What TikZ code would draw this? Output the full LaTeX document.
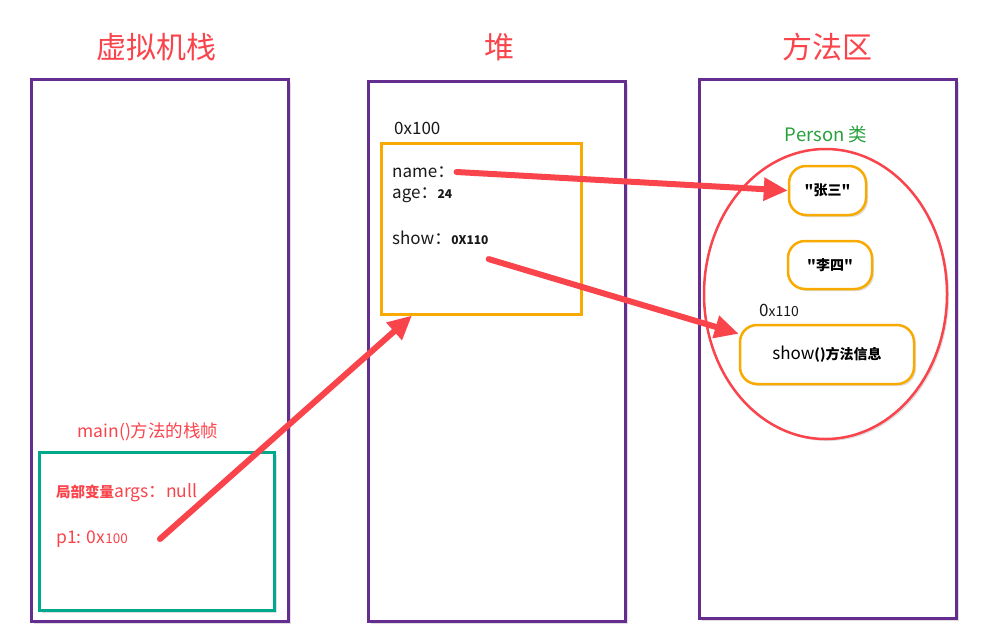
\documentclass[tikz,border=0pt]{standalone}
\usepackage{fontspec}
\setmainfont{Noto Sans CJK SC}[Ligatures=TeXOff]
\usetikzlibrary{positioning}
\usetikzlibrary{arrows.meta}
\usetikzlibrary{shapes.geometric}
\usetikzlibrary{shadows}
\definecolor{areapurple}{RGB}{102, 45, 145}
\definecolor{framegreen}{RGB}{0, 168, 140}
\definecolor{objorange}{RGB}{248, 170, 0}
\definecolor{refred}{RGB}{250, 68, 76}
\definecolor{classgreen}{RGB}{40, 160, 60}

\begin{document}
\begin{tikzpicture}[
  x=1pt, y=-1pt,
  soft/.style={drop shadow={opacity=0.25, shadow xshift=2pt, shadow yshift=-2pt}},
  area/.style={rectangle, draw=areapurple, line width=3pt, fill=white, soft, anchor=north west},
  title/.style={text=refred, font=\fontsize{30}{34}\selectfont},
  redtext/.style={text=refred, font=\fontsize{17.5}{20}\selectfont, inner sep=0pt},
  field/.style={text=black!90, font=\fontsize{17}{19}\selectfont, inner sep=0pt, anchor=west},
  objbox/.style={rectangle, draw=objorange, line width=2.5pt, fill=white, soft, anchor=north west},
  valbox/.style={rectangle, rounded corners=17pt, draw=objorange, line width=2.5pt, fill=white, soft, font=\bfseries\fontsize{14}{16}\selectfont},
  ref/.style={-{Triangle[length=24pt, width=22pt]}, line width=6pt, draw=refred, line cap=round}
]
\useasboundingbox (0,0) rectangle (992,643);

% Three memory areas
\node[area, minimum width=257pt, minimum height=542pt] (stack)  at (30,78) {};
\node[area, minimum width=257pt, minimum height=540pt] (heap)   at (367,80) {};
\node[area, minimum width=257pt, minimum height=539pt] (method) at (698,78) {};

\node[title] (stacktitle)  at (156,47) {虚拟机栈};
\node[title] (heaptitle)   at (499,47) {堆};
\node[title] (methodtitle) at (827,47) {方法区};

% Stack frame of main()
\node[rectangle, draw=framegreen, line width=3pt, fill=white, soft, anchor=north west,
      minimum width=235pt, minimum height=158pt] (frame) at (38,451) {};
\node[redtext] (framelabel) at (148,432) {main()方法的栈帧};
\node[redtext, anchor=west] (args) at (56,493) {{\bfseries\fontsize{14.5}{16}\selectfont 局部变量}args：null};
\node[redtext, anchor=west] (p1) at (56,539) {p1: 0x{\fontsize{13.5}{15}\selectfont 100}};

% Object in the heap
\node[field] (objaddr) at (394,128) {0x100};
\node[objbox, minimum width=200pt, minimum height=171pt] (obj) at (380,142) {};
\node[field] (name) at (392,172) {name：};
\node[field] (age)  at (392,195) {age：{\bfseries\fontsize{12}{14}\selectfont 24}};
\node[field] (show) at (392,238) {show：{\bfseries\fontsize{12}{14}\selectfont 0X110}};

% Class data in the method area
\node[ellipse, draw=refred, line width=2.5pt, soft, fill=white,
      minimum width=243pt, minimum height=290pt] (cls) at (825.5,294) {};
\node[text=classgreen, font=\fontsize{18.5}{20}\selectfont] (classname) at (826,134) {Person 类};
\node[valbox, minimum width=77pt, minimum height=49pt] (zs) at (827.5,190.5) {"张三"};
\node[valbox, minimum width=84pt, minimum height=48pt] (ls) at (830,265) {"李四"};
\node[field] (methaddr) at (759,310) {0{\fontsize{14}{16}\selectfont x110}};
\node[valbox, minimum width=174pt, minimum height=59pt] (showbox) at (827,354.5)
     {{\mdseries\fontsize{17}{19}\selectfont show}()方法信息};

% References
\draw[ref] ([xshift=2pt]name.east) -- (zs.west);
\draw[ref] ([yshift=-14pt]show.south east) -- ([yshift=-10pt]showbox.north west);
\draw[ref] ([xshift=32pt]p1.east) -- ([xshift=32pt]obj.south west);

\end{tikzpicture}
\end{document}
